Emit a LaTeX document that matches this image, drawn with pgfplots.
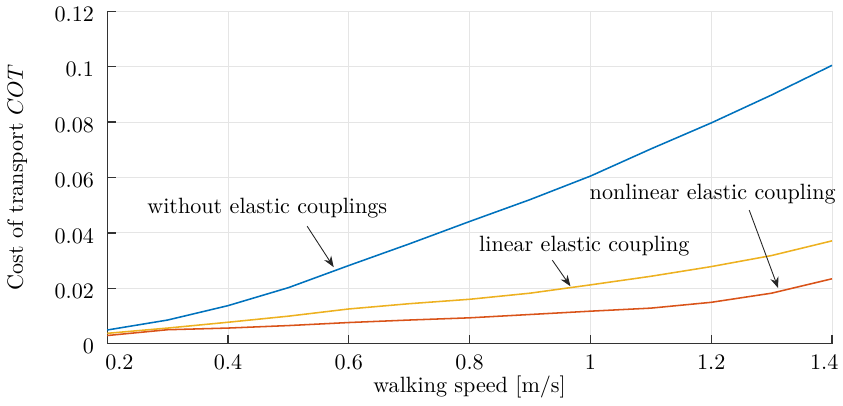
\documentclass[border=0pt]{standalone}
\usepackage{pgfplots}
\pgfplotsset{compat=1.18}
\usetikzlibrary{arrows.meta}
\definecolor{mblue}{rgb}{0,0.447,0.741}
\definecolor{mred}{rgb}{0.85,0.325,0.098}
\definecolor{myellow}{rgb}{0.929,0.694,0.125}

\begin{document}
\begin{tikzpicture}
  \begin{axis}[
      scale only axis,
      width=11.52cm, height=5.28cm,
      xmin=0.2, xmax=1.4,
      ymin=0, ymax=0.12,
      xtick={0.2,0.4,...,1.4},
      xticklabels={\makebox[0pt]{\kern11pt 0.2}, 0.4, 0.6, 0.8, 1, 1.2, \makebox[0pt]{1.4\kern7pt}},
      ytick={0,0.02,...,0.12},
      yticklabel style={/pgf/number format/fixed, /pgf/number format/precision=2, xshift=-2.5pt, yshift=-1.4pt},
      xticklabel style={yshift=-1.4pt},
      axis x line*=bottom, axis y line*=left,
      axis line style={black!80, semithick, -},
      tick style={black!80, semithick},
      tick align=inside,
      major tick length=4pt,
      grid=major,
      major grid style={gray!20, thin},
      xlabel={walking speed [m/s]},
      xlabel style={yshift=4pt},
      ylabel={Cost of transport $COT$},
      ylabel shift=5.5pt,
      clip=false,
    ]

    % without elastic couplings
    \addplot[mblue, line width=0.7pt] coordinates {
      (0.2,0.0049) (0.3,0.0085) (0.4,0.0137) (0.5,0.0202) (0.6,0.0282)
      (0.7,0.0360) (0.8,0.0441) (0.9,0.0520) (1.0,0.0605) (1.1,0.0703)
      (1.2,0.0797) (1.3,0.0898) (1.4,0.1005)};

    % linear elastic coupling
    \addplot[myellow, line width=0.7pt] coordinates {
      (0.2,0.0037) (0.3,0.0056) (0.4,0.0077) (0.5,0.0099) (0.6,0.0125)
      (0.7,0.0144) (0.8,0.0160) (0.9,0.0182) (1.0,0.0212) (1.1,0.0243)
      (1.2,0.0278) (1.3,0.0318) (1.4,0.0371)};

    % nonlinear elastic coupling
    \addplot[mred, line width=0.7pt] coordinates {
      (0.2,0.0029) (0.3,0.0050) (0.4,0.0056) (0.5,0.0065) (0.6,0.0076)
      (0.7,0.0085) (0.8,0.0093) (0.9,0.0105) (1.0,0.0117) (1.1,0.0128)
      (1.2,0.0149) (1.3,0.0182) (1.4,0.0234)};

    \node at (axis cs:0.465,0.0489) {without elastic couplings};
    \draw[-{Stealth[length=5pt]}, black!85] (axis cs:0.531,0.0424) -- (axis cs:0.575,0.0276);

    \node at (axis cs:0.990,0.0352) {linear elastic coupling};
    \draw[-{Stealth[length=5pt]}, black!85] (axis cs:0.937,0.0301) -- (axis cs:0.967,0.0207);

    \node at (axis cs:1.2025,0.0540) {nonlinear elastic coupling};
    \draw[-{Stealth[length=5pt]}, black!85] (axis cs:1.263,0.0482) -- (axis cs:1.311,0.0200);
  \end{axis}
\end{tikzpicture}
\end{document}
